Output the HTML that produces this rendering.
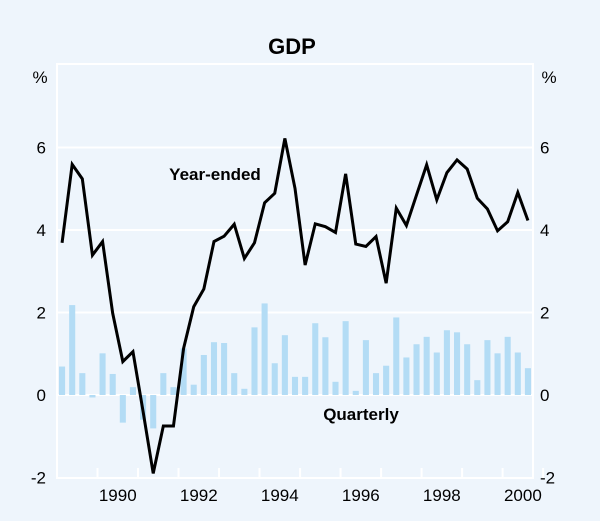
<!DOCTYPE html>
<html><head><meta charset="utf-8"><style>
html,body{margin:0;padding:0;background:#eef5fc;}
svg{display:block;font-family:"Liberation Sans",Arial,sans-serif;}
</style></head><body>
<svg id="chart" width="600" height="521" viewBox="0 0 600 521" xmlns="http://www.w3.org/2000/svg">
<rect x="0" y="0" width="600" height="521" fill="#eef5fc"/>
<text x="292" y="54" text-anchor="middle" font-size="22" font-weight="bold" fill="#000">GDP</text>
<text x="40" y="83" text-anchor="middle" font-size="17" fill="#000">%</text>
<text x="549" y="83" text-anchor="middle" font-size="17" fill="#000">%</text>
<g id="grid"></g>
<g id="bars"></g>
<g id="line"></g>
<g id="axes"></g>
<text x="361" y="420" text-anchor="middle" font-size="17" font-weight="bold" fill="#000">Quarterly</text>
<text x="215" y="180" text-anchor="middle" font-size="17" font-weight="bold" fill="#000">Year-ended</text>
</svg>
<script>
const quarterly = [0.69,2.18,0.53,-0.06,1.01,0.51,-0.67,0.19,-0.6,-0.81,0.53,0.19,1.13,0.25,0.97,1.28,1.26,0.53,0.15,1.64,2.22,0.77,1.45,0.44,0.44,1.74,1.40,0.32,1.79,0.10,1.33,0.53,0.71,1.88,0.91,1.23,1.41,1.03,1.57,1.52,1.23,0.36,1.33,1.01,1.41,1.03,0.65];
const yearEnded = [3.69,5.59,5.24,3.39,3.72,1.98,0.81,1.05,-0.4,-1.90,-0.75,-0.75,1.13,2.14,2.57,3.72,3.85,4.14,3.31,3.69,4.66,4.89,6.22,5.01,3.15,4.15,4.08,3.94,5.36,3.66,3.60,3.84,2.71,4.53,4.11,4.85,5.58,4.73,5.39,5.70,5.48,4.77,4.51,3.98,4.20,4.91,4.23];
const yTicks = [-2,0,2,4,6];
const yearLabels = ["1990","1992","1994","1996","1998","2000"];
const yearLabelIndex = [1,3,5,7,9,11];

const NS="http://www.w3.org/2000/svg";
const L=57,R=533,T=64,B=478,Q=47;
const qw=(R-L)/Q;
function x(i){return L+(i+0.5)*qw;}
function y(v){return 395-v*41.25;}
function mk(tag,attrs,parent){const e=document.createElementNS(NS,tag);for(const k in attrs)e.setAttribute(k,attrs[k]);parent.appendChild(e);return e;}
const grid=document.getElementById('grid'),bars=document.getElementById('bars'),line=document.getElementById('line'),axes=document.getElementById('axes');
const frame=mk('rect',{x:L,y:T,width:R-L,height:B-T,fill:'none',stroke:'#fff','stroke-width':2},grid);


yTicks.forEach(v=>{
  if(v>-2){const g=mk('line',{x1:L,x2:R,y1:y(v),y2:y(v),stroke:'#fff','stroke-width':2},grid);
  
  }
  const t1=mk('text',{x:46,y:y(v)+6,'text-anchor':'end','font-size':17,fill:'#000'},axes);t1.textContent=v;
  
  
  const t2=mk('text',{x:540,y:y(v)+6,'text-anchor':'start','font-size':17,fill:'#000'},axes);t2.textContent=v;
  
  
});
for(let yr=0;yr<=12;yr++){
  const xx=L+yr*4*qw;
  const tk=mk('line',{x1:xx,x2:xx,y1:B-10,y2:B,stroke:'#fff','stroke-width':2},axes);
  
  
}
yearLabels.forEach((s,k)=>{
  const xx=L+(yearLabelIndex[k]+0.5)*4*qw;
  const t=mk('text',{x:xx,y:501,'text-anchor':'middle','font-size':17,fill:'#000'},axes);t.textContent=s;
  
  
});
quarterly.forEach((v,i)=>{
  const bw=qw*0.6;
  const r=mk('rect',{x:x(i)-bw/2,y:Math.min(y(v),y(0)),width:bw,height:Math.abs(y(v)-y(0)),fill:'#b3dcf5'},bars);
  
  
});
const p=mk('polyline',{points:yearEnded.map((v,i)=>x(i)+','+y(v)).join(' '),fill:'none',stroke:'#000','stroke-width':3,'stroke-linejoin':'miter'},line);


</script>
</body></html>
